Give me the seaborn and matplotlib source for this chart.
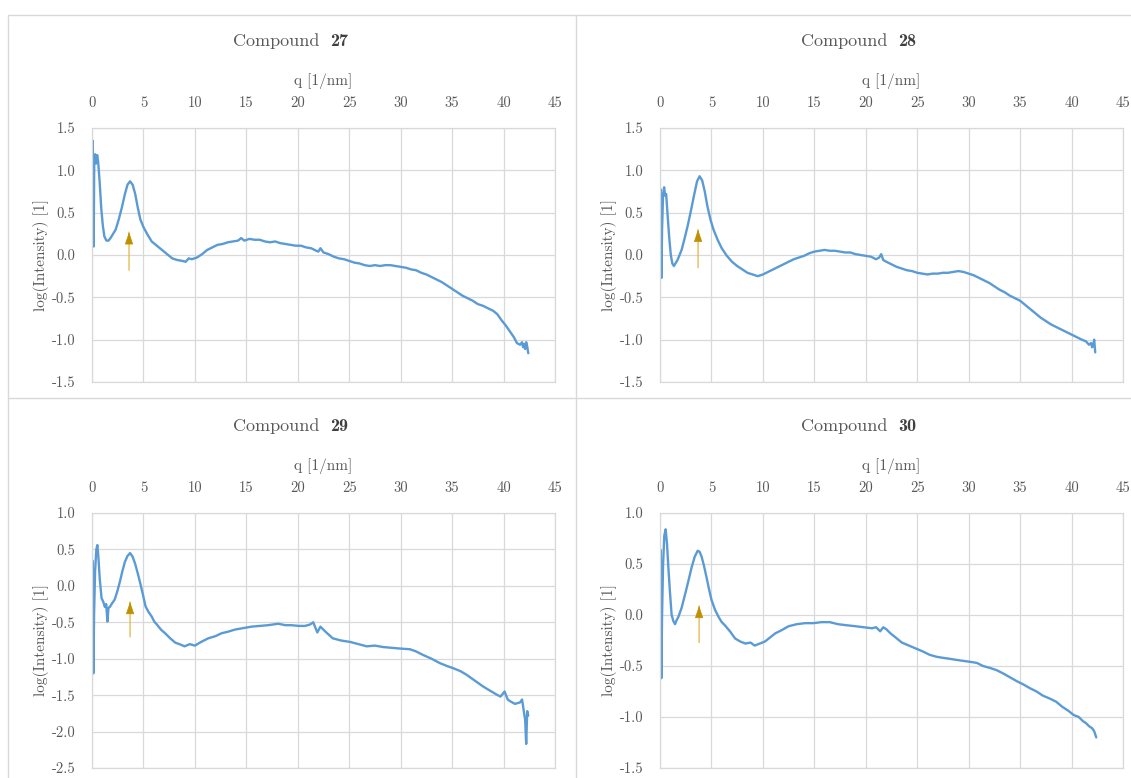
import matplotlib
matplotlib.use("Agg")
import matplotlib.pyplot as plt
from matplotlib.lines import Line2D
import seaborn as sns
import pandas as pd

# ---------------- data ----------------
titles = ["27", "28", "29", "30"]

q27 = [0.0, 0.08, 0.12, 0.16, 0.22, 0.3, 0.4, 0.5, 0.6, 0.75, 0.9, 1.05, 1.2, 1.4, 1.6, 1.8, 2.0, 2.3, 2.6, 2.9,
       3.2, 3.45, 3.7, 3.95, 4.2, 4.45, 4.7, 5.0, 5.4, 5.8, 6.3, 6.8, 7.3, 7.8, 8.3, 8.8, 9.1, 9.4, 9.7, 10.2,
       10.7, 11.2, 11.7, 12.2, 12.7, 13.2, 13.7, 14.2, 14.5, 14.8, 15.3, 15.8, 16.3, 16.8, 17.3, 17.8, 18.3, 18.8,
       19.3, 19.8, 20.3, 20.8, 21.3, 21.8, 22.0, 22.2, 22.5, 23.0, 23.5, 24.0, 24.5, 25.0, 25.5, 26.0, 26.5, 27.0,
       27.5, 28.0, 28.5, 29.0, 29.5, 30.0, 30.5, 31.0, 31.5, 32.0, 32.5, 33.0, 33.5, 34.0, 34.5, 35.0, 35.5, 36.0,
       36.5, 37.0, 37.5, 38.0, 38.5, 39.0, 39.4, 39.8, 40.2, 40.6, 41.0, 41.3, 41.6, 41.8, 41.9, 42.0, 42.1, 42.2,
       42.3, 42.4]
v27 = [0.7, 1.35, 0.55, 0.1, 1.15, 1.19, 1.08, 1.18, 1.1, 0.85, 0.55, 0.35, 0.22, 0.17, 0.17, 0.2, 0.24, 0.3, 0.42, 0.56,
       0.72, 0.83, 0.87, 0.83, 0.72, 0.56, 0.42, 0.33, 0.24, 0.16, 0.11, 0.06, 0.01, -0.04, -0.06, -0.07, -0.08, -0.04, -0.05, -0.03,
       0.01, 0.06, 0.09, 0.12, 0.13, 0.15, 0.16, 0.17, 0.2, 0.17, 0.19, 0.18, 0.18, 0.16, 0.15, 0.16, 0.14, 0.13,
       0.12, 0.11, 0.11, 0.09, 0.08, 0.05, 0.04, 0.08, 0.03, 0.01, -0.02, -0.04, -0.05, -0.07, -0.09, -0.10, -0.12, -0.13,
       -0.12, -0.13, -0.12, -0.12, -0.13, -0.14, -0.15, -0.17, -0.18, -0.21, -0.23, -0.26, -0.29, -0.32, -0.36, -0.40, -0.44, -0.48,
       -0.51, -0.54, -0.58, -0.60, -0.63, -0.66, -0.70, -0.77, -0.83, -0.90, -0.97, -1.04, -1.06, -1.03, -1.09, -1.05, -1.11, -1.03,
       -1.08, -1.16]

q28 = [0.0, 0.03, 0.08, 0.14, 0.2, 0.3, 0.4, 0.5, 0.6, 0.75, 0.9, 1.05, 1.2, 1.35, 1.5, 1.7, 1.9, 2.1, 2.4, 2.7,
       3.0, 3.3, 3.6, 3.85, 4.1, 4.35, 4.6, 4.9, 5.2, 5.6, 6.0, 6.5, 7.0, 7.5, 8.0, 8.5, 9.0, 9.5, 10.0, 10.5,
       11.0, 11.5, 12.0, 12.5, 13.0, 13.5, 14.0, 14.5, 15.0, 15.5, 16.0, 16.5, 17.0, 17.5, 18.0, 18.5, 19.0, 19.5,
       20.0, 20.5, 21.0, 21.3, 21.5, 21.7, 22.0, 22.5, 23.0, 23.5, 24.0, 24.5, 25.0, 25.5, 26.0, 26.5, 27.0, 27.5,
       28.0, 28.5, 29.0, 29.5, 30.0, 30.5, 31.0, 31.5, 32.0, 32.5, 33.0, 33.5, 34.0, 34.5, 35.0, 35.5, 36.0, 36.5,
       37.0, 37.5, 38.0, 38.5, 39.0, 39.5, 40.0, 40.5, 41.0, 41.4, 41.7, 41.9, 42.0, 42.1, 42.2, 42.3]
v28 = [0.3, 0.78, 0.6, -0.27, 0.3, 0.72, 0.8, 0.7, 0.72, 0.45, 0.2, 0.0, -0.1, -0.13, -0.1, -0.06, 0.0, 0.06, 0.2, 0.35,
       0.52, 0.7, 0.87, 0.93, 0.88, 0.75, 0.58, 0.42, 0.3, 0.18, 0.08, -0.01, -0.08, -0.13, -0.17, -0.21, -0.23, -0.25, -0.23, -0.2,
       -0.17, -0.14, -0.11, -0.08, -0.05, -0.03, -0.01, 0.02, 0.04, 0.05, 0.06, 0.05, 0.05, 0.04, 0.03, 0.03, 0.01, 0.0,
       -0.01, -0.02, -0.05, -0.03, 0.01, -0.06, -0.08, -0.11, -0.14, -0.16, -0.18, -0.19, -0.21, -0.22, -0.23, -0.22, -0.22, -0.21,
       -0.21, -0.2, -0.19, -0.2, -0.22, -0.24, -0.27, -0.3, -0.33, -0.37, -0.41, -0.44, -0.48, -0.51, -0.54, -0.59, -0.64, -0.69,
       -0.74, -0.78, -0.82, -0.85, -0.88, -0.91, -0.94, -0.97, -1.0, -1.02, -1.06, -1.04, -1.09, -1.07, -1.0, -1.15]

q29 = [0.0, 0.03, 0.08, 0.14, 0.2, 0.3, 0.42, 0.52, 0.62, 0.75, 0.93, 1.1, 1.25, 1.38, 1.5, 1.6, 1.73, 1.95, 2.2, 2.45,
       2.7, 2.95, 3.2, 3.45, 3.7, 3.95, 4.2, 4.45, 4.7, 4.95, 5.2, 5.5, 5.8, 6.05, 6.3, 6.7, 7.1, 7.6, 8.1, 8.5,
       9.0, 9.5, 10.0, 10.6, 11.3, 12.0, 12.6, 13.2, 13.9, 14.7, 15.5, 16.3, 17.1, 18.1, 18.8, 19.4, 20.1, 20.7,
       21.2, 21.5, 21.9, 22.2, 22.7, 23.4, 24.2, 25.1, 25.9, 26.7, 27.5, 28.3, 29.1, 29.9, 30.9, 31.5, 32.2, 33.0,
       33.8, 34.5, 35.1, 35.8, 36.4, 37.2, 38.0, 38.7, 39.3, 39.7, 40.1, 40.4, 40.6, 41.1, 41.6, 41.8, 42.0, 42.1,
       42.2, 42.3, 42.4]
v29 = [-0.3, 0.35, -0.5, -1.2, -0.4, 0.2, 0.5, 0.56, 0.4, 0.1, -0.17, -0.22, -0.29, -0.25, -0.49, -0.3, -0.29, -0.24, -0.19, -0.08,
       0.05, 0.2, 0.33, 0.41, 0.45, 0.4, 0.3, 0.17, 0.03, -0.12, -0.28, -0.36, -0.42, -0.49, -0.53, -0.6, -0.65, -0.72, -0.78, -0.8,
       -0.83, -0.8, -0.82, -0.77, -0.72, -0.69, -0.65, -0.63, -0.6, -0.58, -0.56, -0.55, -0.54, -0.52, -0.54, -0.54, -0.55, -0.55,
       -0.53, -0.5, -0.64, -0.56, -0.63, -0.72, -0.75, -0.77, -0.8, -0.83, -0.82, -0.84, -0.85, -0.86, -0.87, -0.9, -0.95, -1.0,
       -1.06, -1.1, -1.13, -1.17, -1.22, -1.3, -1.38, -1.44, -1.49, -1.52, -1.45, -1.56, -1.58, -1.62, -1.6, -1.56, -1.75, -1.84,
       -2.17, -1.72, -1.78]

q30 = [0.0, 0.04, 0.08, 0.13, 0.2, 0.3, 0.42, 0.55, 0.68, 0.81, 0.97, 1.13, 1.3, 1.46, 1.62, 1.78, 2.1, 2.43, 2.75, 3.08,
       3.37, 3.66, 3.85, 4.05, 4.28, 4.5, 4.75, 5.0, 5.35, 5.7, 6.0, 6.3, 6.8, 7.3, 7.8, 8.3, 8.8, 9.2, 9.7, 10.2,
       10.7, 11.2, 11.8, 12.5, 13.3, 14.1, 14.9, 15.7, 16.5, 17.3, 18.1, 19.0, 19.8, 20.6, 21.0, 21.4, 21.7, 22.0,
       22.4, 22.9, 23.5, 24.2, 24.9, 25.6, 26.2, 26.9, 27.5, 28.2, 28.8, 29.5, 30.2, 30.8, 31.4, 32.1, 32.7, 33.3,
       34.0, 34.7, 35.3, 36.0, 36.6, 37.2, 37.9, 38.5, 39.1, 39.7, 40.2, 40.7, 41.1, 41.4, 41.7, 42.0, 42.2, 42.4]
v30 = [0.2, 0.64, 0.1, -0.62, 0.0, 0.5, 0.78, 0.84, 0.7, 0.47, 0.22, 0.0, -0.06, -0.09, -0.05, -0.02, 0.07, 0.2, 0.33, 0.47,
       0.57, 0.63, 0.62, 0.57, 0.48, 0.38, 0.26, 0.15, 0.05, -0.02, -0.07, -0.1, -0.16, -0.23, -0.26, -0.28, -0.27, -0.3, -0.28, -0.26,
       -0.22, -0.18, -0.15, -0.11, -0.09, -0.08, -0.08, -0.07, -0.07, -0.09, -0.1, -0.11, -0.12, -0.13, -0.12, -0.16, -0.12, -0.14,
       -0.18, -0.22, -0.27, -0.3, -0.33, -0.36, -0.39, -0.41, -0.42, -0.43, -0.44, -0.45, -0.46, -0.47, -0.5, -0.52, -0.54, -0.57,
       -0.61, -0.65, -0.68, -0.72, -0.75, -0.79, -0.82, -0.85, -0.9, -0.94, -0.98, -1.0, -1.04, -1.06, -1.09, -1.11, -1.14, -1.2]

x_ticks = [0, 5, 10, 15, 20, 25, 30, 35, 40, 45]
y_limits = [(-1.5, 1.5), (-1.5, 1.5), (-2.5, 1.0), (-1.5, 1.0)]

arrow_q = [3.6, 3.7, 3.7, 3.8]
arrow_tip = [0.27, 0.30, -0.22, 0.09]
arrow_tail = [-0.18, -0.15, -0.70, -0.27]

# ---------------- style ----------------
sns.set_theme(style="white")
plt.rcParams["font.family"] = ["cmr10", "DejaVu Serif"]
plt.rcParams["mathtext.fontset"] = "cm"
plt.rcParams["axes.unicode_minus"] = False

TXT = "#595959"
GRID = "#D9D9D9"
LINE = "#5B9BD5"

W, H = 1131, 778
fig = plt.figure(figsize=(W / 100, H / 100), dpi=100)

series = [(q27, v27), (q28, v28), (q29, v29), (q30, v30)]
# plot-area pixel boxes (left, top, right, bottom)
boxes = [(92, 128, 555, 382), (660, 128, 1123, 382), (92, 513, 555, 768), (660, 513, 1123, 768)]
title_pos = [(292, 40), (860, 40), (292, 425), (860, 425)]

for i, ((q, v), (l, t, r, b)) in enumerate(zip(series, boxes)):
    ax = fig.add_axes([l / W, 1 - b / H, (r - l) / W, (b - t) / H])
    df = pd.DataFrame({"q": q, "v": v})
    sns.lineplot(data=df, x="q", y="v", ax=ax, color=LINE, linewidth=1.7,
                 estimator=None, sort=False)
    ax.set_xlim(0, 45)
    ax.set_ylim(*y_limits[i])
    ax.set_xticks(x_ticks)
    lo, hi = y_limits[i]
    yt = [lo + 0.5 * k for k in range(int(round((hi - lo) / 0.5)) + 1)]
    ax.set_yticks(yt)
    ax.set_yticklabels([f"{y:.1f}" for y in yt])
    ax.xaxis.tick_top()
    ax.xaxis.set_label_position("top")
    ax.set_xlabel("q [1/nm]", color=TXT, fontsize=11, labelpad=8)
    ax.set_ylabel("log(Intensity) [1]", color=TXT, fontsize=11, labelpad=2)
    ax.tick_params(axis="both", length=0, colors=TXT, labelsize=10.5)
    ax.tick_params(axis="x", pad=13)
    ax.tick_params(axis="y", pad=12)
    ax.grid(True, color=GRID, linewidth=0.9)
    ax.set_axisbelow(True)
    for s in ax.spines.values():
        s.set_color(GRID)
        s.set_linewidth(0.9)
    # arrow: light shaft + gold head
    ax.annotate("", xy=(arrow_q[i], arrow_tip[i]), xytext=(arrow_q[i], arrow_tail[i]),
                arrowprops=dict(arrowstyle="-", color="#E3BE55", lw=1.0, shrinkA=0, shrinkB=0))
    ax.annotate("", xy=(arrow_q[i], arrow_tip[i]), xytext=(arrow_q[i], arrow_tip[i] - 0.05),
                arrowprops=dict(arrowstyle="-|>,head_length=0.65,head_width=0.22", color="#BF9000",
                                lw=0.5, shrinkA=0, shrinkB=0))
    tx, ty = title_pos[i]
    fig.text((tx + 27) / W, 1 - ty / H, "Compound", ha="right", va="center_baseline",
             color=TXT, fontsize=13, family="cmr10")
    fig.text((tx + 38) / W, 1 - ty / H, titles[i], ha="left", va="center_baseline",
             color="#404040", fontsize=13, family="cmb10")

# chart-area borders
for (x0, y0, x1, y1) in [(8, 15, W, 15), (8, 15, 8, H), (576, 15, 576, H), (8, 398, W, 398)]:
    fig.add_artist(Line2D([x0 / W, x1 / W], [1 - y0 / H, 1 - y1 / H], color=GRID, lw=1.0,
                          transform=fig.transFigure))

fig.savefig("out.png", dpi=100)
